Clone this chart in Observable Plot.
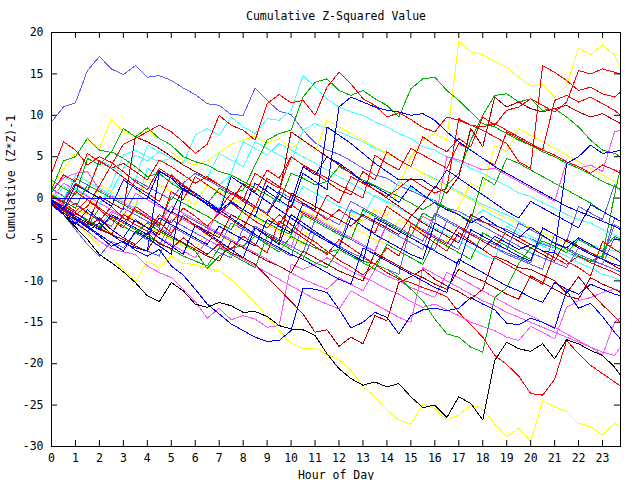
<!DOCTYPE html>
<html>
<head>
<meta charset="utf-8">
<script src="https://cdn.jsdelivr.net/npm/d3@7"></script>
<script src="https://cdn.jsdelivr.net/npm/@observablehq/plot@0.6"></script>
<style>
  html, body { margin: 0; padding: 0; background: #fff; }
  svg { display: block; }
</style>
</head>
<body>
<div id="chart"></div>
<script>
const title = "Cumulative Z-Squared Value";
const xLabel = "Hour of Day";
const yLabel = "Cumulative (Z*Z)-1";
const xTicks = [0,1,2,3,4,5,6,7,8,9,10,11,12,13,14,15,16,17,18,19,20,21,22,23];
const yTicks = [-30,-25,-20,-15,-10,-5,0,5,10,15,20];
const hours = [0,0.5,1,1.5,2,2.5,3,3.5,4,4.5,5,5.5,6,6.5,7,7.5,8,8.5,9,9.5,10,10.5,11,11.5,
               12,12.5,13,13.5,14,14.5,15,15.5,16,16.5,17,17.5,18,18.5,19,19.5,20,20.5,21,21.5,22,22.5,23,23.5,23.75];

// colours used by the series
const RED = "#ff0000", DRED = "#b00000", GREEN = "#00b000", BLUE = "#0000ff", LBLUE = "#6060ff",
      MAG = "#ff55ff", CYAN = "#44ffff", YEL = "#ffff00", BLK = "#000000";

// series values, one per hour in 'hours'
const lb1 = [9.2,11.0,11.5,15.4,17.1,15.6,14.9,16.0, 14.6,14.8,14.2,13.3,12.5,11.4,11.2,10.1, 10.0,13.3,11.8,10.5,10.1,8.2,6.7,5.8, 5.3,4.5,3.6,2.8,2.4,1.5,0.9,0.2, -0.3,-1.2,-1.6,-2.4,-2.9,-3.3,-3.8,-4.5, -4.9,-5.6,-6.0,-6.6,-7.1,-7.6,-8.0,-8.6, -8.9];
const black = [-0.5,-2.0,-3.5,-5.0,-6.8,-7.8,-8.9,-10.2, -11.8,-12.5,-10.2,-11.2,-12.8,-13.2,-12.6,-13.0, -13.8,-13.7,-14.3,-15.4,-15.8,-15.9,-16.6,-18.8, -20.6,-21.8,-22.6,-22.2,-22.8,-22.4,-24.0,-25.3, -25.0,-26.5,-24.0,-24.8,-26.8,-19.6,-17.4,-18.2, -18.5,-17.6,-19.4,-17.1,-17.6,-18.4,-19.0,-20.4, -21.4];
const yel1 = [-0.4,-1.6,-2.9,-4.3,-5.8,-7.3,-8.6,-10.1, -7.6,-8.4,-7.0,-7.9,-8.0,-8.5,-8.8,-9.8, -11.2,-12.6,-14.3,-16.0,-17.5,-18.2,-18.1,-18.9, -19.5,-20.8,-22.8,-24.0,-25.6,-26.8,-27.3,-24.9, -25.4,-26.8,-26.2,-25.0,-25.4,-27.3,-28.8,-27.8, -29.4,-24.5,-25.2,-25.8,-27.2,-27.6,-28.6,-27.2, -27.6];
const red4 = [0.2,-0.5,1.8,0.8,4.5,3.6,2.5,1.4, 0.6,-0.4,2.8,1.6,0.4,-0.8,-1.9,-0.6, -1.7,-2.8,-3.6,-2.0,-3.2,-4.4,-5.3,-6.4, -7.5,-8.3,-9.3,-8.0,-9.0,-9.8,-10.2,-10.8, -11.3,-11.9,-13.8,-15.3,-16.8,-19.0,-20.1,-21.5, -23.6,-23.8,-21.9,-17.2,-18.8,-20.2,-21.2,-22.2, -22.7];
const dred1 = [-0.3,-1.2,-2.5,-3.6,-2.4,-3.8,-4.8,-5.6, -4.2,-5.5,-6.1,-4.8,-5.9,-6.8,-5.5,-6.6, -7.2,-8.0,-9.5,-11.0,-12.5,-14.0,-16.2,-15.9, -17.9,-16.8,-17.6,-14.2,-14.8,-10.2,-9.5,-8.6, -9.8,-10.6,-11.3,-12.2,-11.0,-7.0,-7.6,-8.4, -8.6,-9.3,-10.0,-11.5,-9.5,-11.3,-12.9,-14.3, -15.0];
const blue2 = [-0.6,-1.8,-2.6,-3.5,-4.6,-5.8,-5.2,-6.3, -7.0,-6.2,-8.2,-9.3,-11.0,-12.8,-14.0,-15.2, -16.0,-16.8,-17.3,-17.2,-16.0,-10.9,-11.0,-11.4, -13.4,-15.7,-15.0,-13.8,-14.4,-16.4,-14.2,-13.5, -13.3,-13.6,-13.3,-12.0,-12.8,-13.5,-15.1,-15.3, -14.5,-15.0,-15.7,-11.2,-13.3,-12.7,-14.3,-16.2, -17.0];
const mag1 = [-0.3,-1.5,-2.8,-4.0,-5.2,-6.1,-6.5,-6.8, -8.2,-9.0,-9.6,-11.0,-12.5,-14.5,-13.3,-14.7, -14.2,-14.6,-15.6,-15.4,-8.0,-8.6,-8.0,-7.2, -8.0,-8.8,-9.5,-10.2,-11.0,-11.6,-12.5,-13.2, -12.8,-13.5,-14.2,-15.0,-15.5,-16.0,-16.8,-17.2, -15.5,-16.2,-17.0,-13.2,-12.4,-12.0,-11.4,-11.0, -11.2];
const blue3 = [0,0,0,0,0,0,0,0, 0,3.3,2.4,1.0,0.2,-0.6,-1.5,-0.5, -1.4,-2.2,1.5,0.5,-0.4,3.8,2.8,5.0, 4.2,3.2,2.0,1.4,0.5,-0.5,1.5,0.4, -0.6,-1.4,-2.0,-3.0,-2.2,-3.2,-4.0,-4.8, -3.5,-4.5,-5.5,-6.0,-4.8,-5.6,-6.5,-7.2, -7.7];
const cyan1 = [0.5,-0.4,1.2,0.3,-0.6,0.8,3.6,5.2, 4.5,5.6,4.8,4.2,7.6,8.4,7.6,9.8, 8.6,7.8,9.6,9.4,10.6,14.8,13.4,12.0, 11.0,10.4,10.0,9.2,8.6,7.8,7.2,6.2, 5.8,5.0,4.4,3.6,3.0,2.2,1.5,0.6, 0.2,-0.6,-1.2,-2.0,-2.6,-3.0,-3.8,-4.4, -4.8];
const green1 = [2.2,1.2,0.4,4.8,4.0,5.6,4.8,3.8, 2.6,3.0,1.8,0.9,0.2,-0.7,1.2,0.4, 1.0,4.0,7.0,7.8,8.2,12.2,14.0,14.4, 13.0,12.4,13.0,12.0,11.2,9.8,13.2,14.4, 14.6,13.0,11.8,10.4,9.0,8.6,7.8,7.0, 6.4,5.6,5.0,4.2,3.6,2.9,2.0,1.4, 1.0];
const green2 = [1.0,4.5,5.0,7.2,5.8,5.5,8.4,7.4, 8.5,7.2,6.4,5.0,4.4,4.0,3.2,2.8, 2.0,1.2,0.4,-0.5,3.0,2.4,1.6,2.0, 3.8,3.0,2.2,1.5,0.8,0.2,-0.6,-1.4, -0.5,-1.2,-2.0,-2.8,2.5,1.6,4.8,4.2, 3.4,2.6,1.8,1.0,0.2,-0.6,-1.6,-2.4, -2.8];
const green3 = [-0.2,-0.9,-1.8,-2.6,-3.5,-2.4,-3.4,-4.2, -3.0,-4.0,-4.8,-5.5,-6.4,-8.5,-7.0,-6.0, -5.8,-4.6,-5.6,-6.5,-4.6,-5.4,-6.0,-6.6, -6.2,-7.0,-7.6,-8.0,-8.6,-9.6,-11.0,-12.4, -14.6,-16.4,-16.8,-18.0,-18.6,-12.0,-10.8,-7.9, -6.0,-5.2,-5.8,-6.6,-5.0,-5.8,-6.4,-4.6, -5.0];
const redC = [-0.4,-1.4,-0.6,-1.8,-2.8,-1.0,-2.4,-3.2, -4.0,-2.0,-3.0,-1.2,-2.2,-3.4,-1.8,-2.6, -3.6,-1.0,-2.0,-3.2,-0.8,-1.8,-2.6,0.4, -0.6,2.6,1.8,1.0,0.2,1.2,2.4,1.4, 0.6,1.2,9.6,8.8,8.2,7.4,6.6,4.4, 3.6,16.0,15.2,14.2,13.0,13.4,12.6,12.2, 12.8];
const redD = [0.6,2.8,2.0,5.4,4.4,3.6,4.2,3.2, 2.2,4.6,3.8,2.8,1.8,2.6,1.6,0.8, -0.2,3.0,2.0,1.2,5.0,4.0,3.2,2.4, 1.6,0.8,0.0,5.2,4.2,3.4,6.0,5.2, 4.4,3.6,6.6,5.8,4.8,4.0,8.0,7.2, 6.4,5.8,11.8,12.4,11.6,12.2,11.4,10.6, 10.0];
const redE = [0.3,-0.6,-1.6,-0.2,-1.2,-2.2,-3.0,-1.4, -2.4,-3.4,0.8,-0.2,2.6,1.6,0.6,-0.4, 1.8,0.8,3.4,2.4,5.0,4.0,3.0,2.0, 1.0,0.4,3.2,2.2,5.6,4.6,3.8,7.4, 6.4,5.6,7.2,6.2,9.8,8.8,10.6,11.0, 12.0,11.2,10.4,11.6,15.4,15.0,15.6,15.2, 15.0];
const redA = [3.0,6.8,5.8,4.0,5.0,4.3,3.2,2.0, 1.0,3.6,2.6,1.6,0.6,-0.4,-1.4,0.6, -0.4,-1.2,2.4,1.4,0.4,-0.6,-1.6,-2.6, -1.4,-2.4,-3.4,-4.2,-1.0,-2.0,-3.0,-4.0, -4.8,-5.6,-3.4,-4.4,-5.2,-6.0,-4.0,-4.8, -5.6,-6.4,-7.2,-8.0,-7.0,-7.8,-8.4,-9.0, -9.4];
const redB = [-0.5,-1.2,-2.0,-1.0,1.5,4.0,6.5,7.2, 8.0,8.8,8.0,6.8,5.4,6.5,10.0,8.8, 8.2,7.0,11.4,12.5,11.5,11.8,10.0,13.4, 15.2,13.8,12.0,11.2,9.8,10.3,9.5,8.5, 8.0,9.8,9.4,8.8,8.6,9.0,8.2,7.4, 6.6,5.8,5.2,4.4,3.8,3.0,4.0,3.4, 3.0];
const redF = [-0.5,-1.6,0.8,-0.2,-1.4,-2.6,-3.6,-1.0, -2.0,-3.0,-4.2,-2.2,-3.4,-4.4,-5.4,-6.2, -4.6,-5.6,-6.6,-2.8,-3.8,-4.8,-5.8,-6.8, -5.0,-6.0,-7.0,-8.0,-6.0,-7.0,-3.4,-4.4, -5.4,-6.4,-4.2,-5.2,-6.2,-7.2,-8.0,-8.8, -9.6,-10.4,-6.6,-7.6,-8.4,-9.4,-5.2,-6.2, -6.6];
const dred2 = [-0.8,-1.6,-2.4,-3.2,0.2,-0.6,-1.4,7.4, 6.8,6.0,5.0,4.0,3.2,2.4,1.6,0.8, 0.0,-1.0,-2.0,0.4,8.0,7.0,6.0,5.0, 4.0,3.0,2.0,1.0,0.0,-1.0,-2.0,-3.0, -3.8,-4.6,-5.4,-2.0,-2.8,-3.6,-4.4,-5.2, -6.0,-6.8,-7.6,-5.0,-5.8,-6.6,-7.4,-8.2, -8.6];
const dred3 = [-0.2,-1.0,-1.8,-2.8,-3.6,-4.4,-2.0,-2.8, -3.6,-4.4,-1.6,-2.4,-3.2,-4.0,-4.8,-2.0, -2.8,-3.6,-4.4,-5.2,0.6,-0.2,-1.0,-1.8, -2.6,-3.4,-2.0,-2.8,-3.6,-4.4,-2.2,-0.6, 1.4,0.6,2.6,8.4,6.2,12.2,11.0,11.6, 10.8,10.4,10.8,11.2,10.4,9.8,10.2,9.4, 9.0];
const dred4 = [-0.6,-1.4,-2.2,-3.0,-3.8,-4.4,-5.0,-5.8, -6.4,-3.8,-4.6,-5.4,-6.2,-7.0,-7.6,-5.2, -6.0,-6.8,-7.6,-8.2,-9.0,-6.4,-7.2,-8.0, -8.8,-9.4,-10.0,-6.6,-7.4,-8.2,-9.0,-9.6, -10.4,-11.0,-8.6,-9.4,-10.0,-10.8,-11.6,-12.2, -9.4,-10.2,-11.0,-11.8,-12.2,-9.6,-10.4,-11.0, -11.4];
const blue4 = [-0.4,-1.4,1.6,0.8,0.0,-1.0,2.2,1.2, 0.2,-0.8,-1.8,1.2,0.2,-0.8,-1.6,-0.4, -1.4,1.8,0.8,-0.2,-1.2,3.0,2.0,1.0, 11.0,12.2,11.6,11.0,10.6,10.4,10.0,10.2, 9.4,8.0,6.8,5.8,4.8,3.8,3.0,2.2, 1.4,0.6,-0.2,-1.0,-1.6,-2.2,-2.8,-3.4, -3.8];
const blue5 = [-0.8,-2.0,-3.2,-1.4,-2.6,-3.8,-4.8,-2.6, -3.6,-4.8,-5.8,-6.8,-3.2,-4.2,-5.2,-6.2, -7.2,-3.6,-4.6,-5.6,-2.0,-3.0,-4.0,-5.0, -6.0,-2.4,-3.4,-4.4,-5.2,-6.0,-6.8,-7.4, -3.0,-3.8,-4.6,-5.4,-6.2,-4.6,-5.4,-6.2, -5.6,-6.4,-6.6,4.2,5.0,6.4,5.4,5.6, 5.8];
const blue6 = [-0.2,-1.2,-2.2,-3.0,-3.8,-2.0,-2.8,-3.6, -4.4,-2.4,-3.2,-4.0,-4.8,-5.6,-3.4,-4.2, -5.0,-5.8,-2.6,-3.4,-4.2,-0.6,-1.4,8.6, 7.6,6.6,5.4,4.2,3.2,2.2,2.2,2.2, 1.2,3.4,2.4,1.4,0.4,-0.6,-1.6,-2.4, -0.4,-1.2,-2.0,-2.8,-3.6,-0.8,-1.6,-2.4, -2.8];
const blue7 = [-0.6,-1.8,-3.0,-4.0,-3.0,-4.4,-5.4,-6.0, -6.4,3.2,2.4,1.4,0.6,-0.4,-1.4,-2.4, -3.4,-4.4,-5.2,-6.0,-6.8,-7.4,-8.2,-9.0, -9.8,-10.4,-6.0,-6.8,-7.6,-8.4,-9.2,-10.0, -10.8,-11.4,-7.4,-8.2,-9.0,-9.8,-10.6,-11.2, -12.0,-12.6,-10.2,-11.0,-11.6,-10.4,-11.0,-11.6, -11.8];
const blue8 = [-0.3,-1.2,-2.4,-3.4,-4.4,-5.4,-6.4,-4.0, -4.8,-5.8,-6.8,1.2,0.2,-0.8,-1.8,2.6, 1.6,0.6,-0.4,-1.4,-2.4,-3.4,-4.4,-5.2, -6.0,-6.8,-7.6,-2.4,-3.2,-4.0,-4.8,-5.6, -6.4,-7.2,-8.0,-3.8,-4.6,-5.4,-6.2,-7.0, -7.6,-3.6,-4.4,-5.2,-6.0,-6.8,-7.4,-8.0, -8.2];
const lb2 = [1.2,0.2,-0.8,-1.8,-2.6,-3.4,-1.2,-2.0, -2.8,-3.6,-4.4,-2.0,-2.8,-3.6,-4.4,-5.2, -6.0,-3.4,-4.2,-5.0,-5.8,-6.6,-2.6,-3.4, -4.2,-5.0,-5.8,-6.4,-3.2,-4.0,-4.8,-5.6, -6.2,-2.8,-3.6,-4.4,-5.2,-6.0,-6.8,-7.4, -8.0,-8.6,-4.4,-5.2,-1.0,-1.8,-2.6,1.6, 1.0];
const lb3 = [0.4,-0.4,2.4,1.6,0.8,0.0,-0.8,2.2, 1.4,0.6,-0.2,1.8,3.0,2.2,1.4,0.6, -0.2,-1.0,-1.8,0.8,0.0,-0.8,-1.6,-2.4, -3.2,-0.4,-1.2,-2.0,-2.8,-3.6,-4.4,-5.2, -1.8,-2.6,-3.4,-4.2,-5.0,-5.6,-6.2,-3.0, -3.8,-4.6,-5.4,-6.0,-6.8,-7.4,-8.0,-4.8, -5.2];
const lb4 = [-0.2,-1.0,-1.8,-2.8,-3.6,-4.4,-5.0,-5.8, -6.4,-7.0,-3.4,-4.2,-5.0,-5.8,-6.6,-7.2, -3.6,-4.4,-5.2,-6.0,-6.8,-7.4,-4.2,-5.0, -5.8,-6.6,-7.2,-8.0,-8.6,-9.2,-3.0,-3.8, -4.6,-5.4,-6.2,-2.6,-3.4,-4.2,-5.0,-5.8, -6.6,-7.2,-7.8,-8.4,-6.0,-6.8,-7.4,-3.2, -3.6];
const lb5 = [-0.4,-2.0,-3.8,-5.6,-7.0,-5.2,-6.0,-4.2, -5.0,-5.8,-2.6,-3.4,-4.2,-5.0,-5.8,-3.0, -3.8,-4.6,-5.4,-6.2,-7.0,-3.4,-4.2,-5.0, -5.8,-1.4,-2.2,-3.0,-3.8,-4.6,-5.4,-6.2, -2.0,-2.8,-3.6,-4.4,-5.2,-6.0,-6.6,-7.2, -7.8,-3.6,-4.4,-5.2,-6.0,-6.6,-7.2,-2.4, -2.8];
const mag2 = [1.0,2.4,3.0,3.2,1.0,0.2,-0.6,-1.4, -2.2,-3.0,-1.0,-1.8,-2.6,-3.4,-4.2,-5.0, -5.8,-6.6,-7.4,-8.2,-9.0,-9.8,-10.4,-11.0, -9.6,-10.4,-11.2,-8.6,-9.4,-10.0,-10.8,-11.4, -12.0,-9.0,-9.6,-10.4,-11.2,-12.0,-12.8,-13.6, -14.2,-15.0,-15.6,-16.4,-17.2,-18.0,-19.0,-15.0, -14.4];
const mag3 = [0.2,-0.8,-1.8,-2.6,-3.4,-1.6,-2.4,-3.2, -4.0,-4.8,-5.6,-6.4,-7.2,-5.0,-5.8,-6.6, -7.4,-8.2,-9.0,-9.8,-10.6,-11.4,-12.2,-12.8, -13.4,-11.2,-12.0,-12.8,-13.6,-14.4,-15.0,-8.4, -9.2,-10.0,-10.8,-11.6,-12.4,-13.0,-13.8,-14.4, -15.0,-15.6,-16.2,-16.8,-17.4,-18.0,-18.6,-19.0, -18.0];
const mag4 = [0.0,1.8,1.0,0.2,-0.6,-1.4,-2.2,0.6, -0.2,-1.0,-1.8,-2.6,-3.4,-4.2,-1.2,-2.0, -2.8,-3.6,-4.4,-5.2,-6.0,-1.6,-2.4,-3.2, -4.0,-4.8,-5.6,-6.4,-3.0,-3.8,-4.6,-2.2, -3.0,5.0,4.6,4.0,3.4,3.6,2.8,2.0, 1.2,0.4,-0.4,4.4,3.6,4.0,3.2,8.0, 8.2];
const cyan2 = [-0.4,1.4,0.6,-0.2,-1.0,1.6,5.2,5.8, 5.0,4.4,4.8,4.0,3.2,2.4,1.6,2.8, 2.0,1.2,0.4,-0.4,-1.2,1.4,0.6,-0.2, -1.0,-1.6,-2.2,0.4,-0.4,-1.2,-2.0,-2.8, -3.6,-4.4,-5.2,-6.0,-6.8,-7.4,-3.4,-4.2, -5.0,-5.8,-6.4,-7.0,-7.8,-8.4,-9.2,-9.6, -10.0];
const cyan3 = [0.8,2.6,1.8,1.0,4.6,3.8,3.0,2.2, 6.4,5.6,4.8,4.0,3.2,2.4,5.4,4.6, 3.8,6.8,6.0,5.2,4.4,8.2,9.0,8.4, 8.0,7.4,6.8,6.0,5.4,4.6,3.8,3.0, 2.4,1.6,0.8,0.0,-0.8,-1.4,-2.0,-2.8, -3.6,-4.2,-4.8,-5.4,-5.0,-5.6,-6.2,-6.4, -6.3];
const cyan4 = [0.6,-0.2,2.8,2.0,1.2,0.4,-0.4,-1.2, 3.6,2.8,2.0,1.2,0.4,-0.4,-1.2,3.0, 6.8,6.0,5.2,6.6,5.8,5.0,4.2,3.4, 2.6,1.8,1.0,0.2,-0.6,2.0,1.2,0.4, -0.4,-1.2,-2.0,-2.8,-1.4,-2.2,-3.0,-3.8, -4.6,-5.4,-6.0,-6.6,-7.2,-7.8,-8.4,-9.0, -9.4];
const yelB = [0.5,-0.4,-1.2,-2.0,1.6,0.8,0.0,-0.8, 2.4,1.6,0.8,0.0,-0.8,1.6,0.8,0.0, -0.8,-1.6,-2.4,-3.2,-4.0,-1.4,-2.2,-3.0, -3.8,-2.0,-2.8,-1.4,-2.2,1.4,5.0,7.0, 7.8,7.0,18.9,17.7,17.3,16.5,15.8,14.6, 13.6,13.7,12.2,13.6,18.1,17.3,18.5,17.3, 15.7];
const yelA = [1.5,3.5,5.5,7.0,6.0,9.5,8.0,7.5, 8.2,7.0,5.5,4.5,4.0,4.5,5.5,6.5, 7.0,7.5,6.6,7.2,6.0,7.0,5.6,9.4, 8.6,7.8,7.0,6.2,5.4,4.6,3.8,3.0, 2.2,1.4,0.6,-0.2,-1.0,-1.8,-2.4,-3.0, -3.6,-4.2,-4.8,-5.4,-6.0,-6.6,-7.0,-7.4, -7.6];
const yelC = [-0.2,-1.0,-1.8,-2.6,-3.4,-4.2,-1.8,-2.6, -3.4,-4.2,-5.0,-5.8,-6.4,-3.8,-4.6,-5.2, -1.6,-2.4,-3.2,-4.0,-4.8,-5.6,-1.0,-1.8, -2.6,-3.4,-4.2,-5.0,-5.6,-2.6,-3.4,-4.0, -4.8,-5.2,-1.0,1.8,1.0,6.4,5.6,8.4, 7.6,6.8,6.0,5.2,4.4,3.6,2.8,2.0, 1.6];
const green4 = [0.4,-0.4,-1.2,1.6,0.8,0.0,-0.8,-1.6, -2.4,-3.2,0.2,-0.6,-1.4,-2.2,-3.0,-3.8, -1.4,-2.2,-3.0,-3.8,-4.4,-2.0,-2.8,-3.6, -4.4,-5.0,-1.4,-2.2,-3.0,-3.8,-4.6,-1.8, -2.6,1.6,3.0,7.0,10.0,12.4,12.6,11.6, 12.0,10.6,10.8,9.8,8.6,7.0,5.8,5.4, 5.0];
const green5 = [-0.4,-1.4,-2.4,-3.4,-1.2,-2.2,-3.0,-3.8, -4.6,-5.4,-6.2,-7.0,-7.6,-8.2,-6.0,-6.8, -7.6,-8.4,-4.6,-5.4,-6.2,-7.0,-7.8,-8.4, -6.2,-7.0,-7.8,-8.6,-5.6,-6.4,-7.2,-8.0, -5.0,-5.8,-6.6,-7.4,-4.2,-5.0,-5.8,-6.6, -7.4,-4.6,-5.4,-6.2,-7.0,-7.6,-7.0,0.4, 3.6];

const seriesList = [
  ["lb1", LBLUE, lb1], ["cyan1", CYAN, cyan1], ["cyan3", CYAN, cyan3], ["cyan4", CYAN, cyan4], ["cyan2", CYAN, cyan2],
  ["yelA", YEL, yelA], ["yelB", YEL, yelB], ["yelC", YEL, yelC], ["yel1", YEL, yel1],
  ["lb2", LBLUE, lb2], ["lb3", LBLUE, lb3], ["lb4", LBLUE, lb4], ["lb5", LBLUE, lb5],
  ["mag1", MAG, mag1], ["mag2", MAG, mag2], ["mag3", MAG, mag3], ["mag4", MAG, mag4],
  ["green1", GREEN, green1], ["green2", GREEN, green2], ["green3", GREEN, green3], ["green4", GREEN, green4], ["green5", GREEN, green5],
  ["dred1", DRED, dred1], ["dred2", DRED, dred2], ["dred3", DRED, dred3], ["dred4", DRED, dred4],
  ["redA", RED, redA], ["redB", RED, redB], ["redC", RED, redC], ["redD", RED, redD], ["redE", RED, redE], ["redF", RED, redF], ["red4", RED, red4],
  ["blue2", BLUE, blue2], ["blue3", BLUE, blue3], ["blue4", BLUE, blue4], ["blue5", BLUE, blue5], ["blue6", BLUE, blue6], ["blue7", BLUE, blue7], ["blue8", BLUE, blue8],
  ["black", BLK, black]
];

const rows = [];
for (const [name, color, vals] of seriesList) {
  vals.forEach((v, i) => rows.push({s: name, c: color, h: hours[i], v}));
}

const W = 640, H = 480, mT = 32, mL = 51, mR = 20, mB = 34;
const innerW = W - mL - mR, innerH = H - mT - mB;
const tickLen = 6;

const chart = Plot.plot({
  width: W, height: H,
  marginTop: mT, marginLeft: mL, marginRight: mR, marginBottom: mB,
  style: {fontFamily: "'DejaVu Sans Mono', monospace", fontSize: "11.5px", background: "#fff", color: "#000"},
  x: {domain: [0, 23.75], ticks: xTicks, tickFormat: d => String(d), label: null},
  y: {domain: [-30, 20], ticks: yTicks, tickFormat: d => String(d), label: null},
  color: {type: "identity"},
  marks: [
    Plot.line(rows, {x: "h", y: "v", z: "s", stroke: "c", strokeWidth: 1, curve: "linear", clip: true, shapeRendering: "crispEdges"}),
    Plot.frame({stroke: "#000", strokeWidth: 1}),
    // inward tick marks on all four sides
    Plot.tickY(yTicks, {y: d => d, insetRight: innerW - tickLen, stroke: "#000"}),
    Plot.tickY(yTicks, {y: d => d, insetLeft: innerW - tickLen, stroke: "#000"}),
    Plot.tickX(xTicks, {x: d => d, insetTop: innerH - tickLen, stroke: "#000"}),
    Plot.tickX(xTicks, {x: d => d, insetBottom: innerH - tickLen, stroke: "#000"}),
    Plot.axisX({ticks: xTicks, tickSize: 0, tickPadding: 7, tickFormat: d => String(d), label: null}),
    Plot.axisY({ticks: yTicks, tickSize: 0, tickPadding: 8, tickFormat: d => String(d), label: null}),
    Plot.text([title], {frameAnchor: "top", dy: -21, text: d => d, fontSize: 11.5, fill: "#000"}),
    Plot.text([xLabel], {frameAnchor: "bottom", dy: 32, text: d => d, fontSize: 11.5, fill: "#000"}),
    Plot.text([yLabel], {frameAnchor: "left", dx: -40, rotate: -90, text: d => d, fontSize: 11.5, fill: "#000"})
  ]
});
document.getElementById("chart").appendChild(chart);
</script>
</body>
</html>
